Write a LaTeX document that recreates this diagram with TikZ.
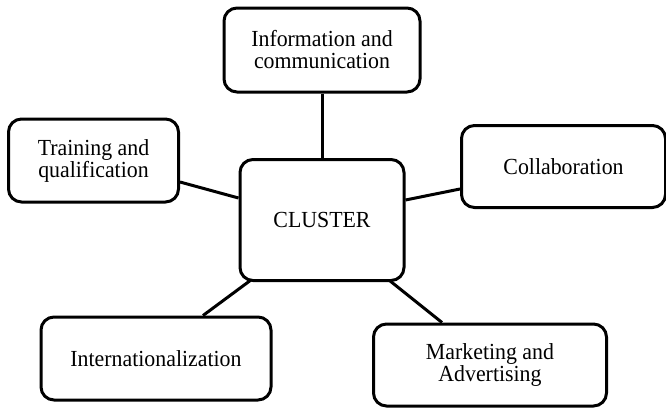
\documentclass[tikz,border=0pt]{standalone}
\usepackage{fontspec}
\setmainfont{Liberation Serif}[FakeStretch=0.95]
\usetikzlibrary{backgrounds}
\begin{document}
\begin{tikzpicture}[x=1pt,y=-1pt,
  box/.style={draw=black, line width=3pt, rounded corners=13pt, fill=white,
    align=center, inner sep=0pt, font=\fontsize{23}{22}\selectfont},
  link/.style={draw=black, line width=3pt}]
\useasboundingbox (0,0) rectangle (666,408);
\node[box, minimum width=196pt, minimum height=84pt] (info) at (322,50) {Information and\\communication};
\node[box, minimum width=170pt, minimum height=83pt] (train) at (93.5,160.5) {Training and\\qualification};
\node[box, minimum width=204pt, minimum height=82pt] (collab) at (563.5,166.5) {Collaboration};
\node[box, minimum width=164pt, minimum height=121pt] (cl) at (322,220) {CLUSTER};
\node[box, minimum width=230pt, minimum height=83pt] (intl) at (156,358.5) {Internationalization};
\node[box, minimum width=233pt, minimum height=82pt] (mkt) at (490,365) {Marketing and\\Advertising};
\begin{scope}[on background layer]
\draw[link] (info.south) -- (cl.north);
\draw[link] ([yshift=-21.5pt]train.east) -- ([yshift=22pt]cl.west);
\draw[link] ([yshift=-22.5pt]collab.west) -- ([yshift=20pt]cl.east);
\draw[link] ([xshift=47pt]intl.north) -- ([xshift=-69pt,yshift=3.5pt]cl.south);
\draw[link] ([xshift=-48pt]mkt.north) -- ([xshift=65pt,yshift=3.5pt]cl.south);
\end{scope}
\end{tikzpicture}
\end{document}
